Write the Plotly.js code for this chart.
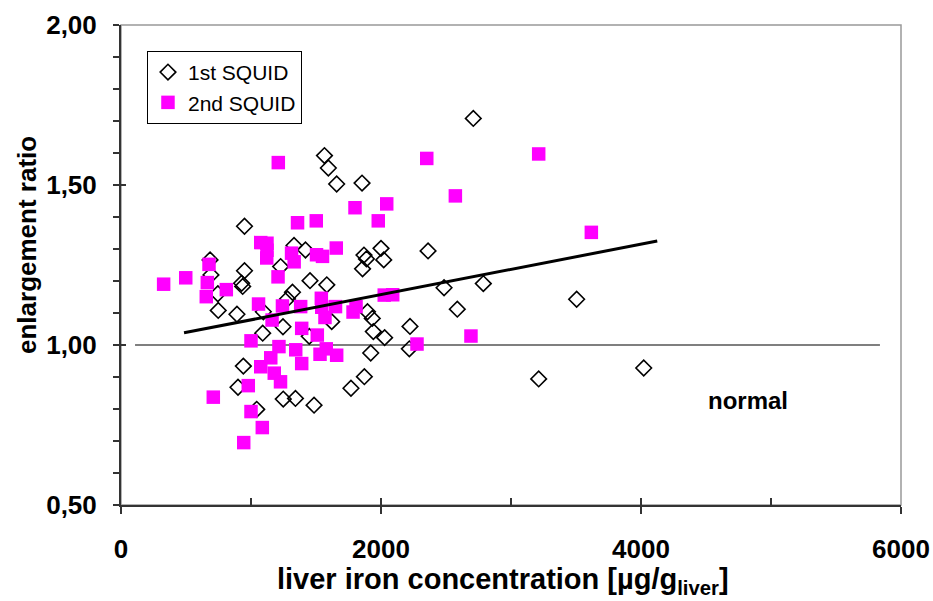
<!DOCTYPE html>
<html>
<head>
<meta charset="utf-8">
<script src="https://cdn.plot.ly/plotly-3.0.1.min.js"></script>
<style>html,body{margin:0;padding:0;background:#fff;}#chart{width:933px;height:601px;}</style>
</head>
<body>
<div id="chart"></div>
<script>
// 1st SQUID (open diamonds)
const squid1X = [1565,1595,1659,1854,2710,2362,2485,2787,2587,3505,2223,2218,3213,4021,1331,1419,2000,1869,1888,2021,1858,1454,1583,1319,950,685,692,950,1228,928,936,745,748,892,1095,1090,1246,1281,1448,1621,1896,1933,1941,2028,1921,941,900,1872,1769,1044,1248,1342,1485];
const squid1Y = [1.592,1.553,1.503,1.506,1.708,1.294,1.179,1.192,1.112,1.143,1.058,0.988,0.894,0.928,1.311,1.297,1.302,1.281,1.269,1.266,1.238,1.201,1.188,1.165,1.371,1.266,1.219,1.232,1.245,1.193,1.183,1.160,1.108,1.096,1.104,1.037,1.057,1.144,1.027,1.073,1.104,1.083,1.042,1.023,0.975,0.934,0.868,0.901,0.865,0.799,0.831,0.833,0.812];
// 2nd SQUID (filled magenta squares)
const squid2X = [1210,1358,1502,1800,2044,1979,2352,3213,2572,3618,1656,1504,1550,1312,1332,328,498,677,664,656,810,1075,1123,1123,1121,1208,1058,1162,1242,1382,1541,1544,1650,1569,1785,1808,1390,1510,1000,1215,1344,1579,1531,1659,1152,1075,1179,1227,1390,979,710,1000,1087,944,2025,2090,2277,2692];
const squid2Y = [1.570,1.382,1.388,1.429,1.441,1.388,1.583,1.597,1.466,1.352,1.303,1.282,1.277,1.287,1.260,1.190,1.210,1.252,1.195,1.151,1.173,1.320,1.318,1.296,1.272,1.213,1.128,1.078,1.122,1.120,1.146,1.118,1.120,1.086,1.103,1.120,1.052,1.031,1.013,0.995,0.985,0.988,0.971,0.968,0.960,0.932,0.912,0.885,0.942,0.873,0.837,0.792,0.742,0.695,1.156,1.157,1.003,1.028];
// regression line end points
const fitX = [485, 4125];
const fitY = [1.038, 1.325];
// "normal" reference line
const normalX = [108, 5838];
const normalY = [1.0, 1.0];
const seriesNames = ["1st SQUID", "2nd SQUID"];

const font = "Liberation Sans, Arial, Helvetica, sans-serif";

const traces = [
  {x: normalX, y: normalY, mode: "lines", line: {color: "#555555", width: 1.3}, showlegend: false, hoverinfo: "skip"},
  {x: fitX, y: fitY, xaxis: "x2", yaxis: "y2", mode: "lines", line: {color: "#000000", width: 3}, showlegend: false, hoverinfo: "skip"},
  {x: squid1X, y: squid1Y, mode: "markers", name: seriesNames[0],
   marker: {symbol: "diamond-open", size: 12, color: "#000000", line: {width: 1.6, color: "#000000"}}},
  {x: squid2X, y: squid2Y, mode: "markers", name: seriesNames[1],
   marker: {symbol: "square", size: 13.5, color: "#FF00FF", line: {width: 0}}}
];

const layout = {
  width: 933, height: 601,
  margin: {l: 121, r: 32, t: 25, b: 96},
  paper_bgcolor: "#ffffff", plot_bgcolor: "#ffffff",
  separators: ",.",
  font: {family: font, color: "#000000"},
  showlegend: true,
  legend: {x: 0.0333, y: 0.946, xanchor: "left", yanchor: "top",
    bordercolor: "#000000", borderwidth: 1, bgcolor: "#ffffff",
    font: {size: 21, family: font}, traceorder: "normal"},
  xaxis: {range: [0, 6000], dtick: 2000, tick0: 0, showgrid: false, zeroline: false,
    showline: true, linecolor: "#333333", linewidth: 2,
    ticks: "outside", ticklen: 7, tickwidth: 1.3, tickcolor: "#333333",
    tickfont: {size: 26, family: font, weight: "bold"}, ticklabelstandoff: 13},
  xaxis2: {range: [0, 6000], overlaying: "x", anchor: "y2", side: "bottom", dtick: 1000, tick0: 0,
    showgrid: false, zeroline: false, showline: false, showticklabels: false,
    ticks: "inside", ticklen: 7, tickwidth: 1.3, tickcolor: "#333333"},
  yaxis: {range: [0.5, 2.0], dtick: 0.5, tick0: 0.5, tickformat: ".2f", showgrid: false, zeroline: false,
    showline: true, linecolor: "#333333", linewidth: 2,
    ticks: "outside", ticklen: 6, tickwidth: 1.3, tickcolor: "#333333",
    minor: {dtick: 0.1, ticks: "outside", ticklen: 6, tickwidth: 1.3, tickcolor: "#333333", showgrid: false},
    tickfont: {size: 26, family: font, weight: "bold"}, ticklabelstandoff: 11},
  yaxis2: {range: [0.5, 2.0], overlaying: "y", anchor: "x2", side: "left", dtick: 0.5, tick0: 0.5,
    showgrid: false, zeroline: false, showline: false, showticklabels: false,
    ticks: "inside", ticklen: 5, tickwidth: 1.3, tickcolor: "#333333"},
  shapes: [
    {type: "rect", xref: "paper", yref: "paper", x0: 0, x1: 1, y0: 0, y1: 1,
     line: {color: "#999999", width: 1.5}, layer: "below"}
  ],
  annotations: [
    {text: "enlargement ratio", xref: "paper", yref: "paper", x: -0.1205, y: 0.5417,
     xanchor: "center", yanchor: "middle", textangle: -90, showarrow: false,
     font: {size: 26, family: font, weight: "bold"}},
    {text: "liver iron concentration [µg/g<sub>liver</sub>]", xref: "paper", yref: "paper",
     x: 0.4897, y: -0.158, xanchor: "center", yanchor: "middle", showarrow: false,
     font: {size: 29, family: font, weight: "bold"}},
    {text: "normal", xref: "x", yref: "y", x: 4823, y: 0.828, xanchor: "center", yanchor: "middle",
     showarrow: false, font: {size: 24, family: font, weight: "bold"}}
  ]
};

Plotly.newPlot("chart", traces, layout, {staticPlot: true, displayModeBar: false});
</script>
</body>
</html>
